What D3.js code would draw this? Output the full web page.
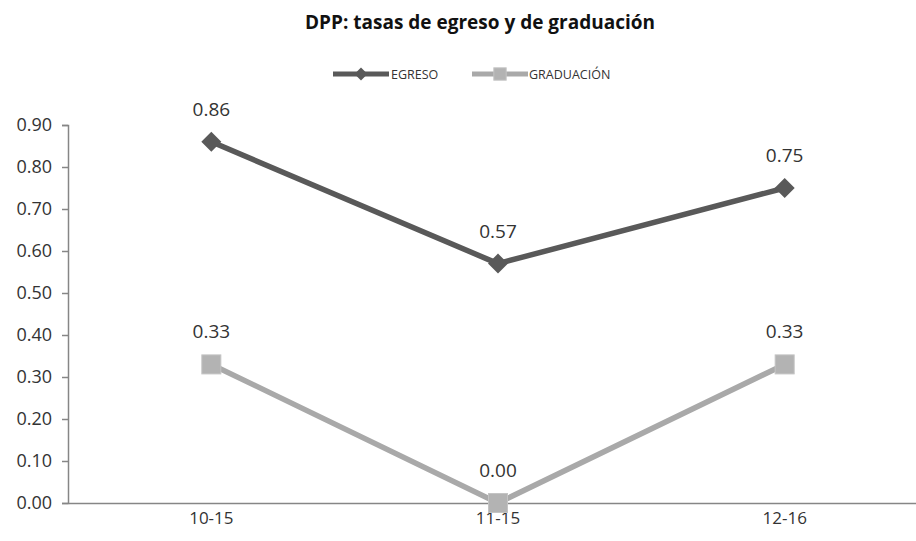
<!DOCTYPE html>
<html><head><meta charset="utf-8">
<script src="https://cdn.jsdelivr.net/npm/d3@7"></script>
<style>body{margin:0;background:#fff}svg{display:block}</style>
</head><body><svg id="c" width="916" height="541"></svg>
<script>
const categories = ["10-15", "11-15", "12-16"];
const egreso = [0.86, 0.57, 0.75];
const graduacion = [0.33, 0.00, 0.33];
const yTicks = [0, 0.1, 0.2, 0.3, 0.4, 0.5, 0.6, 0.7, 0.8, 0.9];
const seriesNames = ["EGRESO", "GRADUACIÓN"];
const title = "DPP: tasas de egreso y de graduación";

const svg = d3.select("#c");
const font = "'Open Sans', sans-serif";
const m = {left: 68, right: 928, top: 125, bottom: 503};
const x = d3.scaleBand().domain(categories).range([m.left, m.right]);
const y = d3.scaleLinear().domain([0, 0.9]).range([m.bottom, m.top]);
const cx = c => x(c) + x.bandwidth() / 2;

svg.append("text").attr("x", 480).attr("y", 29).attr("text-anchor", "middle")
  .attr("font-family", font).attr("font-weight", "bold").attr("font-size", 19)
  .attr("fill", "#111").text(title);

// y axis
const ya = svg.append("g").attr("transform", `translate(${m.left},0)`)
  .call(d3.axisLeft(y).tickValues(yTicks).tickFormat(d3.format(".2f")).tickSize(6).tickPadding(10));
ya.select(".domain").attr("stroke", "#868686").attr("stroke-width", 1.5);
ya.selectAll(".tick line").attr("stroke", "#868686").attr("stroke-width", 1.5);
ya.selectAll(".tick text").attr("font-family", font).attr("font-size", 18).attr("fill", "#333");

// x axis
const xa = svg.append("g").attr("transform", `translate(0,${m.bottom})`)
  .call(d3.axisBottom(x).tickSize(0).tickPadding(9));
xa.select(".domain").attr("stroke", "#868686").attr("stroke-width", 1.5);
xa.selectAll(".tick text").attr("font-family", font).attr("font-size", 17).attr("fill", "#333");

const series = [
  {name: seriesNames[0], vals: egreso, color: "#595959", shape: "diamond"},
  {name: seriesNames[1], vals: graduacion, color: "#a9a9a9", shape: "square"}
];
const line = d3.line().x((d, i) => cx(categories[i])).y(d => y(d));

function marker(g, s, px, py, scale) {
  if (s.shape === "diamond") {
    const h = 10 * scale;
    g.append("path").attr("d", `M${px},${py - h}L${px + h},${py}L${px},${py + h}L${px - h},${py}Z`)
      .attr("fill", s.color);
  } else {
    const h = 9.5 * scale;
    g.append("rect").attr("x", px - h).attr("y", py - h).attr("width", 2 * h).attr("height", 2 * h)
      .attr("fill", "#b3b3b3").attr("stroke", "#c4c4c4").attr("stroke-width", 1);
  }
}

series.forEach(s => {
  svg.append("path").datum(s.vals).attr("d", line).attr("fill", "none")
    .attr("stroke", s.color).attr("stroke-width", 5.5).attr("stroke-linejoin", "round");
  const g = svg.append("g");
  s.vals.forEach((v, i) => marker(g, s, cx(categories[i]), y(v), 1));
  s.vals.forEach((v, i) => {
    svg.append("text").attr("x", cx(categories[i])).attr("y", y(v) - 26)
      .attr("text-anchor", "middle").attr("font-family", font).attr("font-size", 19)
      .attr("fill", "#333").text(d3.format(".2f")(v));
  });
});

// legend
const legend = [
  {s: series[0], x0: 333, tx: 391},
  {s: series[1], x0: 472, tx: 529}
];
legend.forEach(l => {
  svg.append("line").attr("x1", l.x0).attr("x2", l.x0 + 56).attr("y1", 74).attr("y2", 74)
    .attr("stroke", l.s.color).attr("stroke-width", 5);
  marker(svg, l.s, l.x0 + 28, 74, 0.65);
  svg.append("text").attr("x", l.tx).attr("y", 78.5).attr("font-family", font).attr("font-size", 12.5)
    .attr("fill", "#333").text(l.s.name);
});
</script></body></html>
